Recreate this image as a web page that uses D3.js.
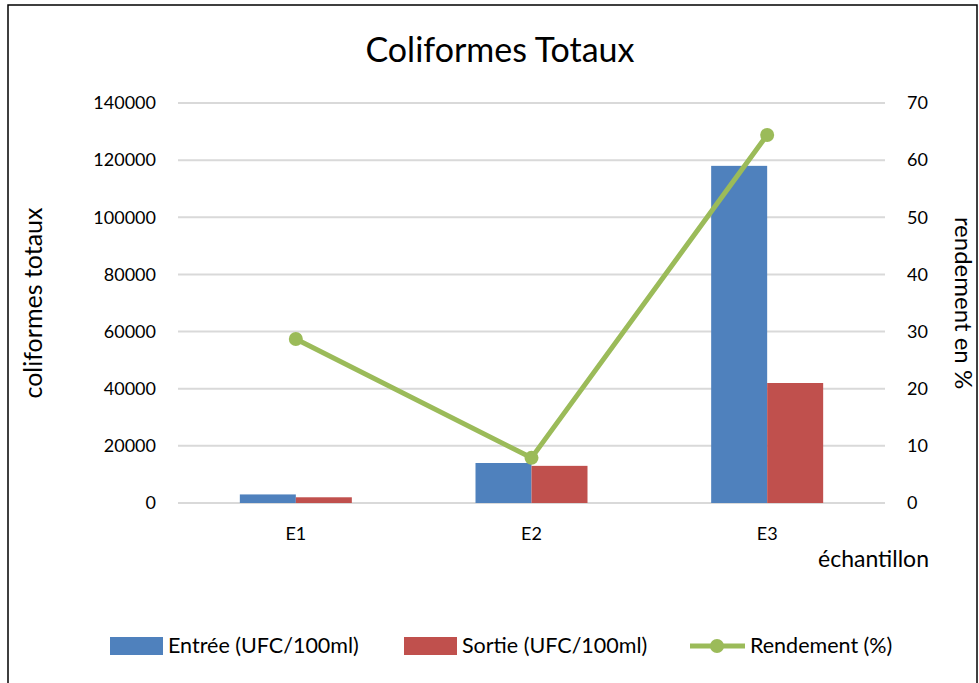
<!DOCTYPE html>
<html>
<head>
<meta charset="utf-8">
<script src="https://cdn.jsdelivr.net/npm/d3@7"></script>
<style>
  body { margin: 0; background: #fff; }
  svg text { font-family: Lato, "Open Sans", sans-serif; fill: #000; }
</style>
</head>
<body>
<div id="chart"></div>
<script>
// data
var categories = ["E1", "E2", "E3"];
var entree = [3000, 14000, 118000];
var sortie = [2000, 13000, 42000];
var rendement = [28.7, 7.9, 64.4];
var leftTicks = [0, 20000, 40000, 60000, 80000, 100000, 120000, 140000];
var rightTicks = [0, 10, 20, 30, 40, 50, 60, 70];

var width = 979, height = 683;
var margin = {top: 103, left: 178, right: 94, bottom: 180};
var plotW = width - margin.left - margin.right,
    plotH = height - margin.top - margin.bottom;

var svg = d3.select("#chart").append("svg")
    .attr("width", width)
    .attr("height", height);

// outer frame
svg.append("rect")
    .attr("x", 8).attr("y", 5)
    .attr("width", 969).attr("height", 690)
    .attr("fill", "none")
    .attr("stroke", "#000")
    .attr("stroke-width", 1.5);

var g = svg.append("g")
    .attr("transform", "translate(" + margin.left + "," + margin.top + ")");

var x = d3.scaleBand().domain(categories).range([0, plotW]);
var yL = d3.scaleLinear().domain([0, 140000]).range([plotH, 0]);
var yR = d3.scaleLinear().domain([0, 70]).range([plotH, 0]);

// gridlines
g.selectAll(".grid")
    .data(leftTicks)
    .enter().append("line")
    .attr("x1", 0).attr("x2", plotW)
    .attr("y1", function(d) { return yL(d); })
    .attr("y2", function(d) { return yL(d); })
    .attr("stroke", "#d9d9d9")
    .attr("stroke-width", 2);

// axes (text only)
var leftAxis = g.append("g")
    .call(d3.axisLeft(yL).tickValues(leftTicks).tickSize(0).tickPadding(22).tickFormat(d3.format("d")));
var rightAxis = g.append("g")
    .attr("transform", "translate(" + plotW + ",0)")
    .call(d3.axisRight(yR).tickValues(rightTicks).tickSize(0).tickPadding(22));
var bottomAxis = g.append("g")
    .attr("transform", "translate(0," + plotH + ")")
    .call(d3.axisBottom(x).tickSize(0).tickPadding(24));
[leftAxis, rightAxis, bottomAxis].forEach(function(a) {
    a.select(".domain").remove();
    a.selectAll("text").style("font-size", "18px");
});

// bars
var barW = 56;
g.selectAll(".entree")
    .data(entree)
    .enter().append("rect")
    .attr("x", function(d, i) { return x(categories[i]) + x.bandwidth() / 2 - barW; })
    .attr("y", function(d) { return yL(d); })
    .attr("width", barW)
    .attr("height", function(d) { return plotH - yL(d); })
    .attr("fill", "#4f81bd");

g.selectAll(".sortie")
    .data(sortie)
    .enter().append("rect")
    .attr("x", function(d, i) { return x(categories[i]) + x.bandwidth() / 2; })
    .attr("y", function(d) { return yL(d); })
    .attr("width", barW)
    .attr("height", function(d) { return plotH - yL(d); })
    .attr("fill", "#c0504d");

// rendement line
var line = d3.line()
    .x(function(d, i) { return x(categories[i]) + x.bandwidth() / 2; })
    .y(function(d) { return yR(d); });

g.append("path")
    .datum(rendement)
    .attr("d", line)
    .attr("fill", "none")
    .attr("stroke", "#9bbb59")
    .attr("stroke-width", 5)
    .attr("stroke-linejoin", "round");

g.selectAll(".pt")
    .data(rendement)
    .enter().append("circle")
    .attr("cx", function(d, i) { return x(categories[i]) + x.bandwidth() / 2; })
    .attr("cy", function(d) { return yR(d); })
    .attr("r", 7)
    .attr("fill", "#9bbb59");

// titles
svg.append("text")
    .attr("x", 500).attr("y", 62)
    .attr("text-anchor", "middle")
    .style("font-size", "34px")
    .text("Coliformes Totaux");

svg.append("text")
    .attr("transform", "translate(42,303) rotate(-90)")
    .attr("text-anchor", "middle")
    .style("font-size", "25px")
    .text("coliformes totaux");

svg.append("text")
    .attr("transform", "translate(955,303) rotate(90)")
    .attr("text-anchor", "middle")
    .style("font-size", "24px")
    .text("rendement en %");

svg.append("text")
    .attr("x", 929).attr("y", 567)
    .attr("text-anchor", "end")
    .style("font-size", "23px")
    .text("échantillon");

// legend
var legendItems = [
    {label: "Entrée (UFC/100ml)", color: "#4f81bd", type: "rect", x: 110},
    {label: "Sortie (UFC/100ml)", color: "#c0504d", type: "rect", x: 404},
    {label: "Rendement (%)", color: "#9bbb59", type: "line", x: 690}
];
var lg = svg.selectAll(".legend")
    .data(legendItems)
    .enter().append("g")
    .attr("transform", function(d) { return "translate(" + d.x + ",646)"; });

lg.filter(function(d) { return d.type === "rect"; })
    .append("rect")
    .attr("x", 0).attr("y", -9)
    .attr("width", 53).attr("height", 18)
    .attr("fill", function(d) { return d.color; });

var lineItems = lg.filter(function(d) { return d.type === "line"; });
lineItems.append("line")
    .attr("x1", 0).attr("x2", 55)
    .attr("y1", 0).attr("y2", 0)
    .attr("stroke", function(d) { return d.color; })
    .attr("stroke-width", 5);
lineItems.append("circle")
    .attr("cx", 27).attr("cy", 0).attr("r", 7)
    .attr("fill", function(d) { return d.color; });

lg.append("text")
    .attr("x", function(d) { return d.type === "rect" ? 58 : 60; })
    .attr("y", 7)
    .style("font-size", "21.5px")
    .text(function(d) { return d.label; });
</script>
</body>
</html>
